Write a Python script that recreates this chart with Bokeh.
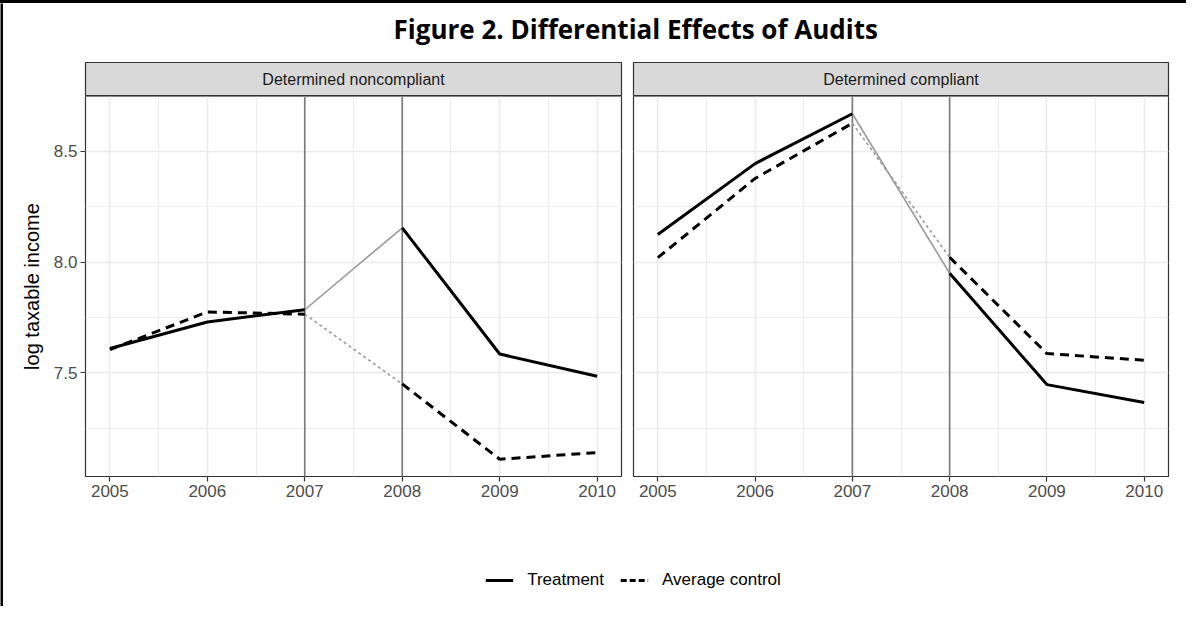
from bokeh.plotting import figure
from bokeh.models import (Range1d, FixedTicker, PrintfTickFormatter, Span, Label,
                          Legend, LegendItem, Div)
from bokeh.layouts import column, row
from bokeh.embed import file_html
from bokeh.resources import INLINE

# ---------------- data ----------------
title_text = "Figure 2. Differential Effects of Audits"
facets = ["Determined noncompliant", "Determined compliant"]
years = [2005, 2006, 2007, 2008, 2009, 2010]
treat_noncompliant = [7.61, 7.73, 7.785, 8.155, 7.585, 7.485]
control_noncompliant = [7.605, 7.775, 7.765, 7.45, 7.11, 7.14]
treat_compliant = [8.125, 8.445, 8.67, 7.95, 7.447, 7.366]
control_compliant = [8.02, 8.378, 8.627, 8.022, 7.587, 7.557]
event_years = [2007, 2008]
y_ticks = [7.5, 8.0, 8.5]
y_minor = [7.25, 7.75, 8.25, 8.75]
x_minor = [2005.5, 2006.5, 2007.5, 2008.5, 2009.5]
y_label = "log taxable income"
series_names = ["Treatment", "Average control"]

# ggplot-like expanded ranges
all_y = treat_noncompliant + control_noncompliant + treat_compliant + control_compliant
ymin, ymax = min(all_y), max(all_y)
ypad = 0.05 * (ymax - ymin)
xpad = 0.05 * (years[-1] - years[0])
XR = (years[0] - xpad, years[-1] + xpad)
YR = (ymin - ypad, ymax + ypad)

FONT = "Liberation Sans"
BAR = 3
W = 1183
LEFT_B, MID_B = 82, 6
LEFT_W = LEFT_B + 536 + MID_B
RIGHT_W = W - LEFT_W
RIGHT_B = RIGHT_W - MID_B - 535
TITLE_H, STRIP_H, PANEL_H, LEG_H = 59, 34, 426, 84


def blank(width, height, **kw):
    f = figure(width=width, height=height, x_range=Range1d(0, 1), y_range=Range1d(0, 1),
               x_axis_type=None, y_axis_type=None, output_backend="svg",
               toolbar_location=None, **kw)
    f.xgrid.visible = False
    f.ygrid.visible = False
    f.outline_line_color = None
    return f


def split(xs, ys):
    a, b = event_years
    pre = [(x, y) for x, y in zip(xs, ys) if x <= a]
    mid = [(x, y) for x, y in zip(xs, ys) if a <= x <= b]
    post = [(x, y) for x, y in zip(xs, ys) if x >= b]
    return pre, mid, post


def make_strip(text, width, bl, br):
    s = blank(width, STRIP_H, min_border_left=bl, min_border_right=br,
              min_border_top=0, min_border_bottom=0)
    s.background_fill_color = "#d9d9d9"
    s.border_fill_color = "white"
    s.outline_line_color = "#333333"
    s.outline_line_width = 1.2
    s.add_layout(Label(x=0.5, y=0.5, text=text, text_align="center",
                       text_baseline="middle", text_font=FONT,
                       text_font_size="16px", text_color="#1a1a1a"))
    return s


def make_panel(treat, ctrl, width, bl, br, show_y):
    p = figure(width=width, height=PANEL_H, x_range=Range1d(*XR), y_range=Range1d(*YR),
               output_backend="svg", toolbar_location=None,
               min_border_left=bl, min_border_right=br,
               min_border_top=0, min_border_bottom=46)
    p.background_fill_color = "white"
    p.border_fill_color = "white"
    p.outline_line_color = "#333333"
    p.outline_line_width = 1.2

    xt = FixedTicker(ticks=years, minor_ticks=x_minor)
    yt = FixedTicker(ticks=y_ticks, minor_ticks=y_minor)
    p.xaxis.ticker = xt
    p.yaxis.ticker = yt
    p.xgrid.ticker = xt
    p.ygrid.ticker = yt
    for g in (p.xgrid, p.ygrid):
        g.grid_line_color = "#ebebeb"
        g.grid_line_width = 1.6
        g.minor_grid_line_color = "#ebebeb"
        g.minor_grid_line_width = 0.9

    for ax in (p.xaxis, p.yaxis):
        ax.axis_line_color = None
        ax.major_tick_in = 0
        ax.major_tick_out = 5
        ax.major_tick_line_color = "#333333"
        ax.major_tick_line_width = 1.2
        ax.minor_tick_line_color = None
        ax.major_label_text_font = FONT
        ax.major_label_text_font_size = "17px"
        ax.major_label_text_color = "#4d4d4d"
        ax.major_label_standoff = 3
    p.yaxis.formatter = PrintfTickFormatter(format="%.1f")
    if show_y:
        p.yaxis.axis_label = y_label
        p.yaxis.axis_label_text_font = FONT
        p.yaxis.axis_label_text_font_size = "20px"
        p.yaxis.axis_label_text_font_style = "normal"
        p.yaxis.axis_label_text_color = "black"
        p.yaxis.axis_label_standoff = 8
    else:
        p.yaxis.visible = False

    for ev in event_years:
        p.add_layout(Span(location=ev, dimension="height", line_color="#7a7a7a",
                          line_width=1.6, level="underlay"))

    t_pre, t_mid, t_post = split(years, treat)
    c_pre, c_mid, c_post = split(years, ctrl)
    p.line([a for a, _ in c_mid], [b for _, b in c_mid], line_color="#999999",
           line_width=1.6, line_dash="3 3")
    p.line([a for a, _ in t_mid], [b for _, b in t_mid], line_color="#999999",
           line_width=1.6)
    for seg in (c_pre, c_post):
        p.line([a for a, _ in seg], [b for _, b in seg], line_color="black",
               line_width=3, line_dash="9 6")
    for seg in (t_pre, t_post):
        p.line([a for a, _ in seg], [b for _, b in seg], line_color="black",
               line_width=3, line_join="round")
    return p


# title
tf = blank(W, TITLE_H, min_border=0)
tf.add_layout(Label(x=0.502, y=0.576, text=title_text, text_align="center",
                    text_baseline="middle", text_font="Open Sans",
                    text_font_style="bold", text_font_size="26px",
                    text_color="black"))

s1 = make_strip(facets[0], LEFT_W, LEFT_B, MID_B)
s2 = make_strip(facets[1], RIGHT_W, MID_B, RIGHT_B)
p1 = make_panel(treat_noncompliant, control_noncompliant, LEFT_W, LEFT_B, MID_B, True)
p2 = make_panel(treat_compliant, control_compliant, RIGHT_W, MID_B, RIGHT_B, False)

# legend (key glyphs use the real series, kept outside this figure's visible range)
lf = blank(W, LEG_H, min_border_top=32, min_border_bottom=0,
           min_border_left=77, min_border_right=0)
r1 = lf.line(years, treat_noncompliant, line_color="black", line_width=3)
r2 = lf.line(years, control_noncompliant, line_color="black", line_width=3,
             line_dash="6 3")
leg = Legend(items=[LegendItem(label=series_names[0], renderers=[r1]),
                    LegendItem(label=series_names[1], renderers=[r2])],
             orientation="horizontal", location="center", glyph_width=28,
             glyph_height=20, label_standoff=14, spacing=16, padding=0, margin=0,
             border_line_color=None, background_fill_alpha=0,
             label_text_font=FONT, label_text_font_size="17px",
             label_text_color="black")
lf.add_layout(leg, "center")

content = column(tf, row(s1, s2), row(p1, p2), lf)

# black frame lines along the top and left of the picture
top_bar = Div(text="", width=W + BAR, height=BAR, margin=0,
              styles={"background-color": "black"})
left_bar = blank(BAR, TITLE_H + STRIP_H + PANEL_H + LEG_H, min_border=0)
left_bar.background_fill_color = "black"
left_bar.border_fill_color = "black"

layout = column(top_bar, row(left_bar, content))

open("out.html", "w").write(file_html(layout, INLINE))
